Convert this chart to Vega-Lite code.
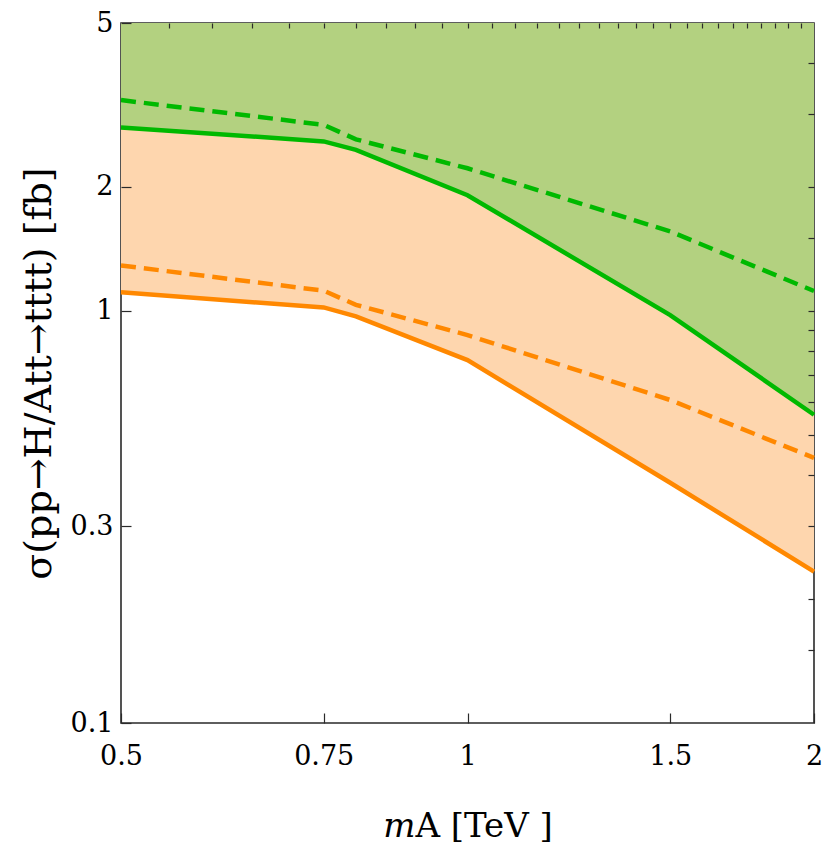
{
  "$schema": "https://vega.github.io/schema/vega-lite/v6.json",
  "width": 693,
  "height": 700,
  "autosize": {"type": "none"},
  "padding": {"left": 121, "top": 23, "right": 16, "bottom": 128},
  "background": "white",
  "config": {
    "view": {"stroke": "#2a2a2a", "strokeWidth": 1.6},
    "font": "DejaVu Serif",
    "axis": {
      "domain": false,
      "grid": false,
      "tickColor": "#2a2a2a",
      "tickWidth": 1.2,
      "labelFont": "DejaVu Serif",
      "titleFont": "DejaVu Serif",
      "labelColor": "black",
      "titleColor": "black",
      "labelFontSize": 27,
      "titleFontWeight": "normal"
    }
  },
  "data": {
    "values": [
      {"m": 0.5, "gs": 2.79, "gd": 3.25, "os": 1.11, "od": 1.29},
      {"m": 0.75, "gs": 2.58, "gd": 2.83, "os": 1.02, "od": 1.12},
      {"m": 0.8, "gs": 2.46, "gd": 2.61, "os": 0.97, "od": 1.035},
      {"m": 1.0, "gs": 1.91, "gd": 2.22, "os": 0.76, "od": 0.874},
      {"m": 1.5, "gs": 0.977, "gd": 1.56, "os": 0.383, "od": 0.608},
      {"m": 2.0, "gs": 0.56, "gd": 1.118, "os": 0.233, "od": 0.44}
    ]
  },
  "resolve": {"axis": {"x": "independent", "y": "independent"}},
  "layer": [
    {
      "mark": {"type": "area", "color": "#b3d180", "opacity": 1},
      "encoding": {
        "x": {
          "field": "m", "type": "quantitative",
          "scale": {"type": "log", "domain": [0.5, 2], "nice": false},
          "axis": {
            "orient": "bottom",
            "zindex": 2,
            "values": [0.5, 0.75, 1, 1.5, 2],
            "format": "~g",
            "tickSize": -10,
            "labelPadding": 30,
            "labelFlush": false,
            "labelOverlap": false,
            "title": "𝑚A [TeV ]",
            "titleFontSize": 34,
            "titlePadding": 40
          }
        },
        "y": {
          "field": "gs", "type": "quantitative",
          "scale": {"type": "log", "domain": [0.1, 5], "nice": false},
          "axis": {
            "orient": "left",
            "zindex": 2,
            "values": [0.1, 0.3, 1, 2, 5],
            "format": "~g",
            "tickSize": -10,
            "labelPadding": 18,
            "labelFlush": false,
            "labelOverlap": false,
            "title": "σ(pp→H/Att→tttt) [fb]",
            "titleFontSize": 38,
            "titlePadding": 12
          }
        },
        "y2": {"datum": 5}
      }
    },
    {
      "mark": {"type": "area", "color": "#fed6ae", "opacity": 1},
      "encoding": {
        "x": {
          "field": "m", "type": "quantitative",
          "scale": {"type": "log", "domain": [0.5, 2], "nice": false},
          "axis": {
            "orient": "top",
            "zindex": 2,
            "values": [0.55, 0.6, 0.65, 0.7, 0.75, 0.8, 0.85, 0.9, 0.95, 1, 1.05, 1.1, 1.15, 1.2, 1.25, 1.3, 1.35, 1.4, 1.45, 1.5, 1.55, 1.6, 1.65, 1.7, 1.75, 1.8, 1.85, 1.9, 1.95],
            "tickSize": -5,
            "labels": false,
            "title": null
          }
        },
        "y": {
          "field": "os", "type": "quantitative",
          "scale": {"type": "log", "domain": [0.1, 5], "nice": false},
          "axis": {
            "orient": "right",
            "zindex": 2,
            "values": [0.15, 0.2, 0.3, 0.4, 0.5, 0.6, 0.7, 0.8, 0.9, 1, 1.5, 2, 3, 4],
            "tickSize": -6,
            "labels": false,
            "title": null
          }
        },
        "y2": {"field": "gs"}
      }
    },
    {
      "mark": {"type": "line", "color": "#00b900", "strokeWidth": 4.5},
      "encoding": {
        "x": {"field": "m", "type": "quantitative", "scale": {"type": "log", "domain": [0.5, 2], "nice": false}, "axis": null},
        "y": {"field": "gs", "type": "quantitative", "scale": {"type": "log", "domain": [0.1, 5], "nice": false}, "axis": null}
      }
    },
    {
      "mark": {"type": "line", "color": "#00b900", "strokeWidth": 4.5, "strokeDash": [15, 8]},
      "encoding": {
        "x": {"field": "m", "type": "quantitative", "scale": {"type": "log", "domain": [0.5, 2], "nice": false}, "axis": null},
        "y": {"field": "gd", "type": "quantitative", "scale": {"type": "log", "domain": [0.1, 5], "nice": false}, "axis": null}
      }
    },
    {
      "mark": {"type": "line", "color": "#ff8800", "strokeWidth": 4.5},
      "encoding": {
        "x": {"field": "m", "type": "quantitative", "scale": {"type": "log", "domain": [0.5, 2], "nice": false}, "axis": null},
        "y": {"field": "os", "type": "quantitative", "scale": {"type": "log", "domain": [0.1, 5], "nice": false}, "axis": null}
      }
    },
    {
      "mark": {"type": "line", "color": "#ff8800", "strokeWidth": 4.5, "strokeDash": [15, 8]},
      "encoding": {
        "x": {"field": "m", "type": "quantitative", "scale": {"type": "log", "domain": [0.5, 2], "nice": false}, "axis": null},
        "y": {"field": "od", "type": "quantitative", "scale": {"type": "log", "domain": [0.1, 5], "nice": false}, "axis": null}
      }
    }
  ]
}
